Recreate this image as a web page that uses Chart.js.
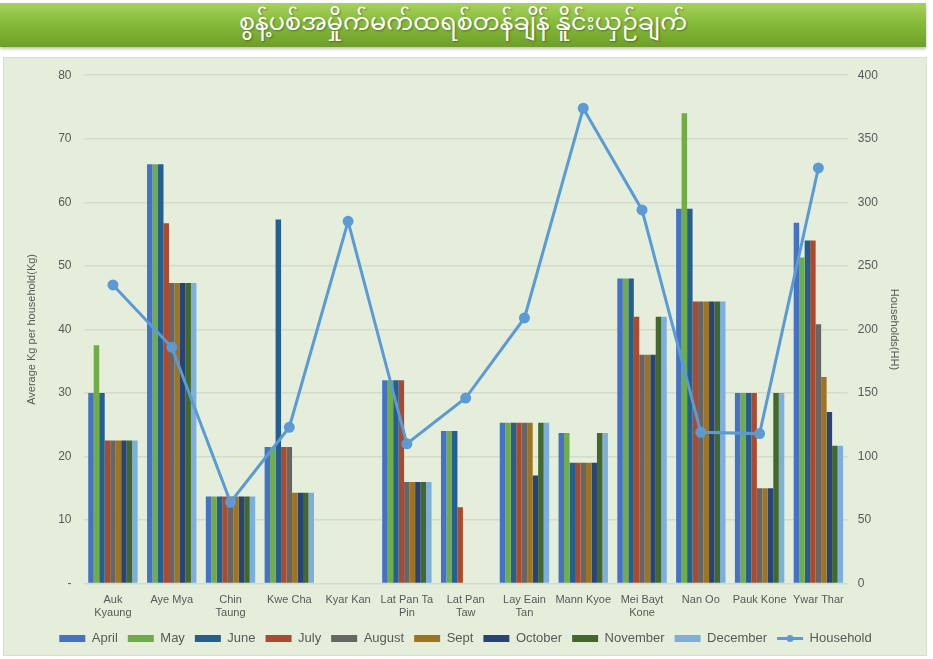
<!DOCTYPE html>
<html>
<head>
<meta charset="utf-8">
<script src="https://cdn.jsdelivr.net/npm/chart.js@4.4.1/dist/chart.umd.min.js"></script>
<style>
  html, body { margin:0; padding:0; background:#ffffff; width:933px; height:659px; overflow:hidden; }
  #banner {
    position:absolute; left:0; top:3px; width:926px; height:44px;
    background: linear-gradient(to bottom, #a6d25a 0%, #86bb3a 45%, #6d9f28 100%);
    box-shadow: 0 2px 3px rgba(0,0,0,0.25);
    color:#ffffff; text-align:center; font-family:"Noto Sans Myanmar","Padauk","Myanmar Text","Noto Sans",sans-serif;
    font-size:24px; line-height:44px; text-shadow: 1px 1px 2px rgba(0,0,0,0.35);
  }
  #panel {
    position:absolute; left:3px; top:57px; width:924px; height:599px;
    background:#e4eedb; border:1px solid #d6e0cc; box-sizing:border-box;
  }
  #wrap { position:absolute; left:5px; top:-2px; width:917px; height:599px; }
</style>
</head>
<body>
<div id="banner">စွန့်ပစ်အမှိုက်မက်ထရစ်တန်ချိန် နိူင်းယှဉ်ချက်</div>
<div id="panel"><div id="wrap"><canvas id="c"></canvas></div></div>
<script>
const categories = [["Auk","Kyaung"],"Aye Mya",["Chin","Taung"],"Kwe Cha","Kyar Kan",["Lat Pan Ta","Pin"],["Lat Pan","Taw"],["Lay Eain","Tan"],"Mann Kyoe",["Mei Bayt","Kone"],"Nan Oo","Pauk Kone","Ywar Thar"];

const april    = [30, 66, 13.7, 21.5, null, 32, 24, 25.3, 23.7, 48, 59, 30, 56.8];
const may      = [37.5, 66, 13.7, 21.5, null, 32, 24, 25.3, 23.7, 48, 74, 30, 51.3];
const june     = [30, 66, 13.7, 57.3, null, 32, 24, 25.3, 19, 48, 59, 30, 54];
const july     = [22.5, 56.7, 13.7, 21.5, null, 32, 12, 25.3, 19, 42, 44.4, 30, 54];
const august   = [22.5, 47.3, 13.7, 21.5, null, 16, null, 25.3, 19, 36, 44.4, 15, 40.8];
const sept     = [22.5, 47.3, 13.7, 14.3, null, 16, null, 25.3, 19, 36, 44.4, 15, 32.5];
const october  = [22.5, 47.3, 13.7, 14.3, null, 16, null, 17, 19, 36, 44.4, 15, 27];
const november = [22.5, 47.3, 13.7, 14.3, null, 16, null, 25.3, 23.7, 42, 44.4, 30, 21.7];
const december = [22.5, 47.3, 13.7, 14.3, null, 16, null, 25.3, 23.7, 42, 44.4, 30, 21.7];
const household = [235, 186, 64, 123, 285, 110, 146, 209, 374, 294, 119, 118, 327];

const leftTicks = { min: 0, max: 80, step: 10 };
const rightTicks = { min: 0, max: 400, step: 50 };

const barSeries = [
  ["April", april, "#4472C4"],
  ["May", may, "#70AD47"],
  ["June", june, "#255E91"],
  ["July", july, "#AD4A2C"],
  ["August", august, "#666666"],
  ["Sept", sept, "#9E7420"],
  ["October", october, "#264478"],
  ["November", november, "#43682B"],
  ["December", december, "#7CAFDD"]
];
const lineColor = "#5B9BD5";

const datasets = barSeries.map(([label, data, color]) => ({
  type: 'bar', label, data, backgroundColor: color, borderWidth: 0,
  yAxisID: 'y', order: 1, categoryPercentage: 0.84, barPercentage: 1.0
}));
datasets.push({
  type: 'line', label: 'Household', data: household, borderColor: lineColor,
  backgroundColor: lineColor, borderWidth: 3, pointRadius: 4, pointHoverRadius: 4,
  pointBackgroundColor: lineColor, pointBorderColor: lineColor, yAxisID: 'y1', order: 0, tension: 0
});

const legendMarker = {
  id: 'legendMarker',
  afterDraw(chart) {
    const lg = chart.legend;
    if (!lg || !lg.legendItems) return;
    const idx = lg.legendItems.findIndex(it => it.text === 'Household');
    if (idx < 0) return;
    const hb = lg.legendHitBoxes[idx];
    const bw = lg.options.labels.boxWidth;
    const cy = hb.top + hb.height / 2;
    const ctx = chart.ctx;
    ctx.save();
    ctx.strokeStyle = lineColor; ctx.fillStyle = lineColor; ctx.lineWidth = 3;
    ctx.beginPath(); ctx.moveTo(hb.left, cy); ctx.lineTo(hb.left + bw, cy); ctx.stroke();
    ctx.beginPath(); ctx.arc(hb.left + bw / 2, cy, 3.5, 0, Math.PI * 2); ctx.fill();
    ctx.restore();
  }
};

const gray = "#595959";
const fam = "Arial, 'Liberation Sans', sans-serif";
new Chart(document.getElementById('c'), {
  data: { labels: categories, datasets },
  plugins: [legendMarker],
  options: {
    responsive: true, maintainAspectRatio: false, animation: false,
    layout: { padding: { left: 16, right: 20, top: 8, bottom: 0 } },
    plugins: {
      tooltip: { enabled: false },
      legend: {
        position: 'bottom',
        labels: {
          boxWidth: 26, boxHeight: 7, padding: 10, color: gray,
          font: { family: fam, size: 13 },
          sort: (a, b) => a.datasetIndex - b.datasetIndex,
          generateLabels(chart) {
            const items = Chart.defaults.plugins.legend.labels.generateLabels(chart);
            items.forEach(it => {
              if (it.text === 'Household') { it.fillStyle = 'rgba(0,0,0,0)'; it.strokeStyle = 'rgba(0,0,0,0)'; it.lineWidth = 0; }
              else { it.lineWidth = 0; }
            });
            return items;
          }
        }
      }
    },
    scales: {
      x: {
        grid: { display: false }, border: { display: false },
        ticks: { color: gray, font: { family: fam, size: 11 }, maxRotation: 0, autoSkip: false, padding: 2 }
      },
      y: {
        position: 'left', min: leftTicks.min, max: leftTicks.max,
        grid: { color: "#d3dccb", lineWidth: 1.5, drawTicks: false }, border: { display: false },
        ticks: { stepSize: leftTicks.step, color: gray, padding: 12,
          font: { family: fam, size: 12 },
          callback: v => v === 0 ? '-' : v },
        title: { display: true, text: 'Average Kg per household(Kg)', color: gray,
          font: { family: fam, size: 11 }, padding: { top: 0, bottom: 8 } }
      },
      y1: {
        position: 'right', min: rightTicks.min, max: rightTicks.max,
        grid: { display: false, drawOnChartArea: false, drawTicks: false }, border: { display: false },
        ticks: { stepSize: rightTicks.step, color: gray, padding: 10,
          font: { family: fam, size: 12 } },
        title: { display: true, text: 'Households(HH)', color: gray,
          font: { family: fam, size: 11 }, padding: { top: 5, bottom: 0 } }
      }
    }
  }
});
</script>
</body>
</html>
